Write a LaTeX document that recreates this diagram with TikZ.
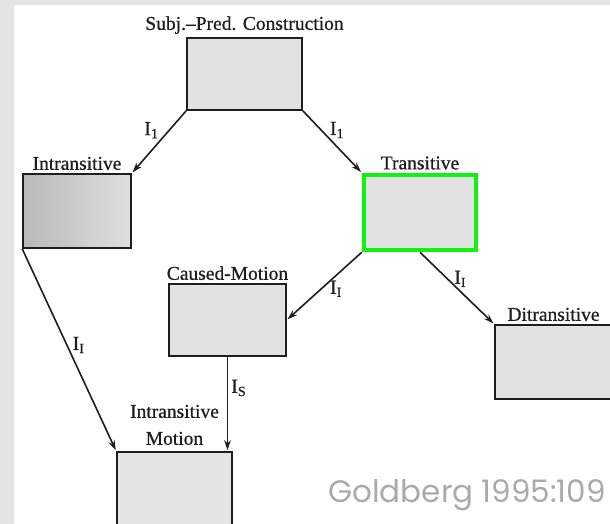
\documentclass[tikz,border=0pt]{standalone}
\usepackage{fontspec}
\setmainfont{Liberation Serif}[BoldFont=Liberation Serif, BoldFeatures={FakeBold=0.7}]
\newfontfamily\srcfont{Poppins}
\usetikzlibrary{arrows.meta,positioning}
\definecolor{bgray}{HTML}{E4E4E4}
\definecolor{boxgray}{HTML}{E2E2E2}
\definecolor{hlgreen}{HTML}{12F212}
\definecolor{srcgray}{HTML}{AAAAAA}
\definecolor{inkgray}{HTML}{1E1E1E}

\begin{document}
\begin{tikzpicture}[x=1pt,y=-1pt,>={Stealth[length=10pt,width=6.5pt]}]
\tikzstyle{bx}=[rectangle, draw=inkgray, line width=1.6pt, fill=boxgray, inner sep=0pt, minimum width=115pt, minimum height=73pt]
\tikzstyle{txt}=[inner sep=1pt, text=inkgray, font=\fontsize{19.5}{22}\selectfont\bfseries]
\tikzstyle{lnk}=[->, draw=inkgray, line width=1.6pt, shorten >=1pt]
\tikzstyle{ilab}=[inner sep=2pt, text=inkgray, font=\fontsize{20}{22}\selectfont\bfseries]
\useasboundingbox (0,0) rectangle (610,524);
\fill[bgray] (0,0) rectangle (610,524);
\fill[white] (14,5) rectangle (610,524);
% boxes
\node (sp) [bx, minimum height=72pt] at (244.5,74) {};
\node (intr) [bx, minimum width=108pt, minimum height=74pt, left color=gray!55, right color=gray!25] at (77,211) {};
\node (tr) [bx, draw=hlgreen, line width=4.5pt, minimum width=112pt, minimum height=75pt] at (420,212.5) {};
\node (cm) [bx, minimum width=117pt, minimum height=72pt] at (227.5,320) {};
\node (ditr) [bx, minimum width=117pt, minimum height=74pt] at (553.5,362) {};
\node (im) [bx, fill=gray!20, minimum height=74pt] at (174.5,489) {};
% labels
\node (sptxt) [txt, above=2pt of sp] {Subj.--Pred. Construction};
\node (intrtxt) [txt, above=2pt of intr] {Intransitive};
\node (trtxt) [txt, above=2pt of tr] {Transitive};
\node (cmtxt) [txt, above=2pt of cm] {Caused-Motion};
\node (ditrtxt) [txt, above=2pt of ditr] {Ditransitive};
\node (imtxt) [txt, align=center, font=\fontsize{19.5}{27}\selectfont\bfseries, above=5pt of im] {Intransitive\\Motion};
% links
\draw[lnk] (sp.south west) -- node[ilab, pos=0.31, left=8pt] {I\textsubscript{1}} (intr.north east);
\draw[lnk] (sp.south east) -- node[ilab, pos=0.31, right=6pt] {I\textsubscript{1}} (tr.north west);
\draw[lnk] (tr.south west) -- node[ilab, pos=0.54, right=6pt] {I\textsubscript{I}} (cm.east);
\draw[lnk] (tr.south) -- node[ilab, pos=0.37, right=4pt] {I\textsubscript{I}} (ditr.north west);
\draw[lnk] (intr.south west) -- node[ilab, pos=0.475, right=3pt] {I\textsubscript{I}} (im.north west);
\draw[lnk] (cm.south) -- node[ilab, pos=0.33, right=1pt] {I\textsubscript{S}} (cm.south |- im.north);
\node (src) [anchor=base east, text=srcgray, font=\srcfont\fontsize{31}{33}\selectfont, inner sep=0pt] at (606,502) {Goldberg 1995:109};
\end{tikzpicture}
\end{document}
